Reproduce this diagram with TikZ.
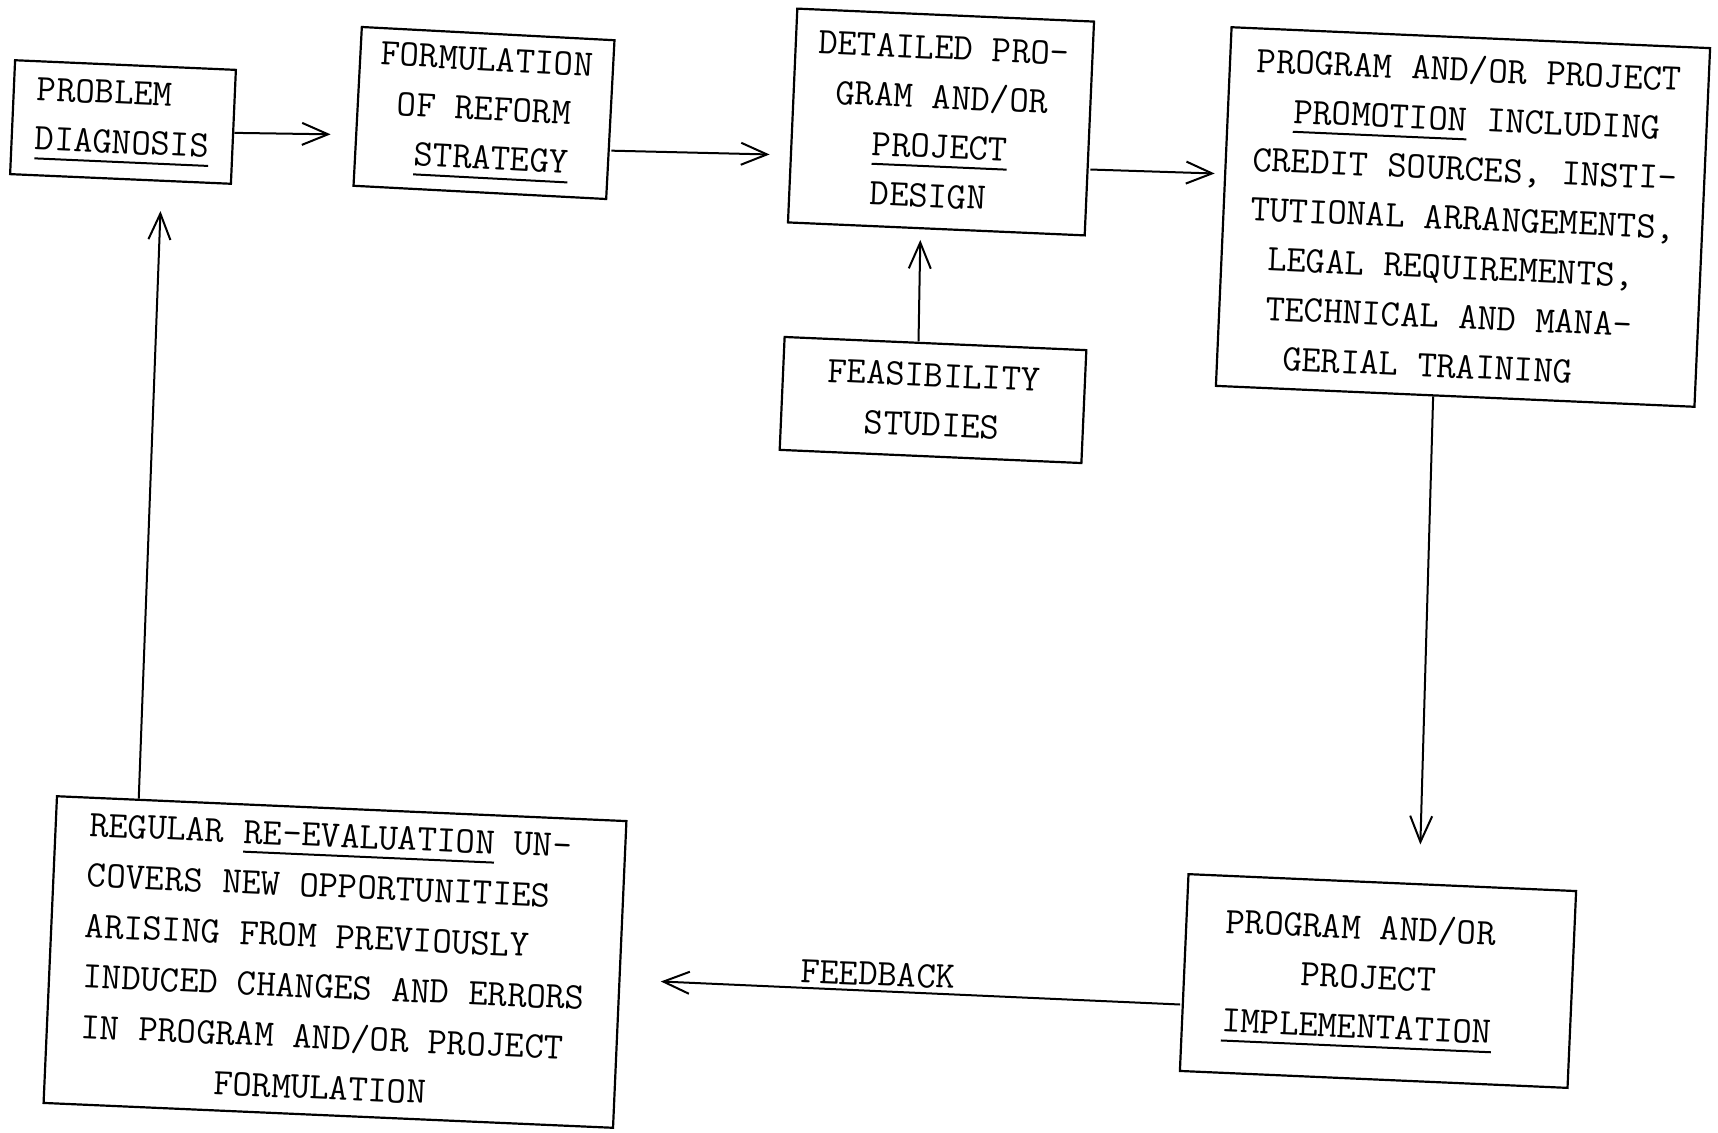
\documentclass[tikz,border=0pt]{standalone}
\usetikzlibrary{arrows.meta,calc}
\newcommand\myul[1]{\setbox0=\hbox{#1}\rlap{\rule[-9.5pt]{\wd0}{2pt}}\box0\relax}
\begin{document}
\begin{tikzpicture}[x=1pt,y=-1pt,
  box/.style={draw, line width=2.2pt, rectangle, inner sep=0pt, align=left,
    font=\fontsize{37.5}{49.5}\selectfont\ttfamily, rotate=-2.5},
  arr/.style={line width=2pt, -{Straight Barb[length=26pt,width=22pt]}},
  lbl/.style={font=\fontsize{37.5}{49.5}\selectfont\ttfamily, inner sep=4pt}]
\fill[white] (0,0) rectangle (1718,1132);
\useasboundingbox (0,0) rectangle (1718,1132);

\node[box, minimum width=221pt, minimum height=114pt] (b1) at (123,122)
  {PROBLEM\\\myul{DIAGNOSIS}};
\node[box, minimum width=253pt, minimum height=159pt, rotate=-0.5] (b2) at (484,113)
  {FORMULATION\\\phantom{X}OF REFORM\\\phantom{XX}\myul{STRATEGY}};
\node[box, minimum width=297pt, minimum height=214pt] (b3) at (941,122)
  {DETAILED PRO-\\\phantom{X}GRAM AND/OR\\\phantom{XXX}\myul{PROJECT}\\\phantom{XXX}DESIGN};
\node[box, minimum width=302pt, minimum height=113pt] (feas) at (933,400)
  {FEASIBILITY\\\phantom{XX}STUDIES};
\node[box, minimum width=479pt, minimum height=359pt] (b4) at (1463,217)
  {PROGRAM AND/OR PROJECT\\\phantom{XX}\myul{PROMOTION} INCLUDING\\CREDIT SOURCES, INSTI-\\TUTIONAL ARRANGEMENTS,\\\phantom{X}LEGAL REQUIREMENTS,\\\phantom{X}TECHNICAL AND MANA-\\\phantom{XX}GERIAL TRAINING};
\node[box, minimum width=388pt, minimum height=197pt] (b6) at (1378,981)
  {PROGRAM AND/OR\\\phantom{XXXX}PROJECT\\\myul{IMPLEMENTATION}\phantom{XX}};
\node[box, minimum width=570pt, minimum height=307pt,
  font=\fontsize{37.5}{50.5}\selectfont\ttfamily] (b7) at (335,962)
  {REGULAR \myul{RE-EVALUATION} UN-\\COVERS NEW OPPORTUNITIES\\ARISING FROM PREVIOUSLY\\INDUCED CHANGES AND ERRORS\\IN PROGRAM AND/OR PROJECT\\\phantom{XXXXXXX}FORMULATION};

\draw[arr] ($(b1.east)+(0,6)$) -- ($(b2.west)+(-26,28)$);
\draw[arr] ($(b2.east)+(0,31)$) -- ($(b3.west)+(-22,39)$);
\draw[arr] ($(b3.east)+(0,41)$) -- ($(b4.west)+(-8,-33)$);
\draw[arr] ($(feas.north)+(-17,-1)$) -- ($(b3.south)+(-16,10)$);
\draw[arr] ($(b4.south)+(-22,-1)$) -- ($(b6.north)+(38,-37)$);
\draw[arr] ($(b6.west)+(-3,32)$) -- node[lbl, pos=0.583, anchor=south, rotate=-2.3] (fb) {FEEDBACK} ($(b7.east)+(40,7)$);
\draw[arr] ($(b7.north)+(-203,-9)$) -- ($(b1.south)+(40,31)$);
\end{tikzpicture}
\end{document}
